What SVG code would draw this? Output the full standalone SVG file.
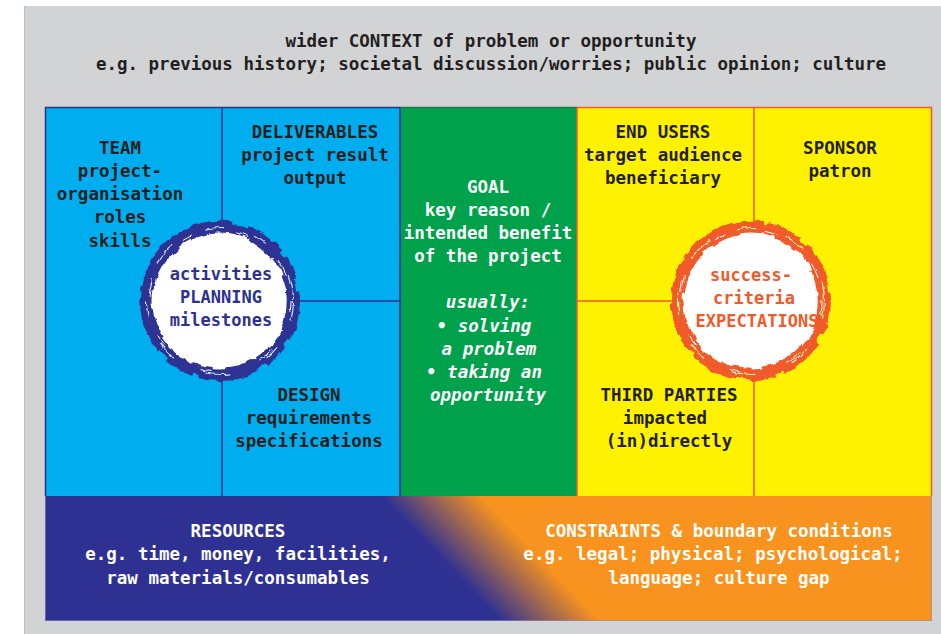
<svg xmlns="http://www.w3.org/2000/svg" width="941" height="634" viewBox="0 0 941 634">
  <style>
    .t { font-family: "DejaVu Sans Mono", "Liberation Mono", monospace; font-weight: bold; font-size: 17.5px; text-anchor: middle; }
    .dark { fill: #231f20; }
    .light { fill: #ffffff; }
    .it { font-style: italic; }
    .navy { fill: #2e3192; }
    .red { fill: #f15a29; }
    .bdiv { stroke: #2e3192; stroke-width: 1.5; fill: none; }
    .odiv { stroke: #f15a29; stroke-width: 1.5; fill: none; }
  </style>
  <defs>
    <linearGradient id="bandGrad" gradientUnits="userSpaceOnUse" x1="464" y1="583" x2="516" y2="533">
      <stop offset="0" stop-color="#2e3192"/>
      <stop offset="1" stop-color="#f7931e"/>
    </linearGradient>
    <filter id="brush" x="-20%" y="-20%" width="140%" height="140%">
      <feTurbulence type="fractalNoise" baseFrequency="0.12" numOctaves="2" seed="4" result="n"/>
      <feDisplacementMap in="SourceGraphic" in2="n" scale="5" xChannelSelector="R" yChannelSelector="G"/>
    </filter>
  </defs>

  <!-- background: wider context -->
  <g id="context">
    <rect x="24" y="6" width="917" height="628" fill="#d1d3d4"/>
    <line x1="24.5" y1="6" x2="24.5" y2="634" stroke="#bcbec0" stroke-width="1"/>
    <text class="t dark" x="491" y="46.5">wider CONTEXT of problem or opportunity</text>
    <text class="t dark" x="491" y="69.5">e.g. previous history; societal discussion/worries; public opinion; culture</text>
  </g>

  <!-- bottom band -->
  <rect x="45" y="496" width="887" height="125" fill="url(#bandGrad)"/>

  <g id="team">
    <rect x="45" y="107" width="177" height="389" fill="#00aeef"/>
    <text class="t dark" x="120" y="154">TEAM</text>
    <text class="t dark" x="120" y="177">project-</text>
    <text class="t dark" x="120" y="200">organisation</text>
    <text class="t dark" x="120" y="223">roles</text>
    <text class="t dark" x="120" y="247">skills</text>
  </g>

  <g id="deliverables">
    <rect x="222" y="107" width="178" height="194" fill="#00aeef"/>
    <text class="t dark" x="315" y="138">DELIVERABLES</text>
    <text class="t dark" x="315" y="161">project result</text>
    <text class="t dark" x="315" y="184">output</text>
  </g>

  <g id="design">
    <rect x="222" y="301" width="178" height="195" fill="#00aeef"/>
    <text class="t dark" x="309" y="401">DESIGN</text>
    <text class="t dark" x="309" y="424">requirements</text>
    <text class="t dark" x="309" y="447">specifications</text>
  </g>

  <g id="goal">
    <rect x="400" y="107" width="177" height="389" fill="#00a14b"/>
    <text class="t light" x="488" y="193">GOAL</text>
    <text class="t light" x="488" y="216">key reason /</text>
    <text class="t light" x="488" y="239">intended benefit</text>
    <text class="t light" x="488" y="262">of the project</text>
    <text class="t light it" x="488" y="308">usually:</text>
    <text class="t light it" x="484" y="332">• solving</text>
    <text class="t light it" x="489" y="355">a problem</text>
    <text class="t light it" x="484" y="378">• taking an</text>
    <text class="t light it" x="488" y="401">opportunity</text>
  </g>

  <g id="end-users">
    <rect x="577" y="107" width="177" height="194" fill="#fff200"/>
    <text class="t dark" x="663" y="138">END USERS</text>
    <text class="t dark" x="663" y="161">target audience</text>
    <text class="t dark" x="663" y="184">beneficiary</text>
  </g>

  <g id="third-parties">
    <rect x="577" y="301" width="177" height="195" fill="#fff200"/>
    <text class="t dark" x="669" y="401">THIRD PARTIES</text>
    <text class="t dark" x="665" y="424">impacted</text>
    <text class="t dark" x="669" y="447">(in)directly</text>
  </g>

  <g id="sponsor">
    <rect x="754" y="107" width="178" height="389" fill="#fff200"/>
    <text class="t dark" x="840" y="154">SPONSOR</text>
    <text class="t dark" x="840" y="177">patron</text>
  </g>

  <g id="resources">
    <text class="t light" x="238" y="537">RESOURCES</text>
    <text class="t light" x="238" y="560">e.g. time, money, facilities,</text>
    <text class="t light" x="238" y="584">raw materials/consumables</text>
  </g>

  <g id="constraints">
    <text class="t light" x="719" y="537">CONSTRAINTS &amp; boundary conditions</text>
    <text class="t light" x="713" y="560">e.g. legal; physical; psychological;</text>
    <text class="t light" x="719" y="584">language; culture gap</text>
  </g>

  <!-- cell dividers and outlines -->
  <g id="dividers">
    <path class="bdiv" d="M400 107.5 H45.5 V496 M222 107 V496 M222 301 H400 M400 107 V496"/>
    <path class="odiv" d="M577 107.5 H931.5 V496 M754 107 V496 M577 301 H754 M577 107 V496"/>
    <line x1="400" y1="107.5" x2="577" y2="107.5" stroke="#1a7a45" stroke-width="1.5"/>
    <path d="M45.5 496 V620.5 H931.5 V496" fill="none" stroke="#8c8fb8" stroke-width="1" opacity="0.6"/>
  </g>

  <!-- brush-ring circles -->
  <g id="activities">
    <circle cx="220" cy="301" r="73" fill="#ffffff"/>
    <g filter="url(#brush)" fill="none">
      <circle cx="220" cy="301" r="73" stroke="#2e3192" stroke-width="9"/>
      <path d="M160 350 A78 78 0 0 1 232 224" stroke="#2e3192" stroke-width="5"/>
      <circle cx="220" cy="301" r="78.5" stroke="#2e3192" stroke-width="3" stroke-dasharray="40 8 25 12 60 6 30 18"/>
      <circle cx="220" cy="301" r="68" stroke="#2e3192" stroke-width="2.5" stroke-dasharray="30 20 50 15 20 40"/>
      <circle cx="220" cy="301" r="73.5" stroke="#bfe7fb" stroke-width="1.2" stroke-dasharray="20 30 15 40 25 35"/>
      <circle cx="220" cy="301" r="71" stroke="#ffffff" stroke-width="1" stroke-dasharray="12 40 18 50 10 45"/>
    </g>
    <text class="t navy" x="221" y="280" style="font-size:17px">activities</text>
    <text class="t navy" x="221" y="303" style="font-size:17px">PLANNING</text>
    <text class="t navy" x="221" y="326" style="font-size:17px">milestones</text>
  </g>

  <g id="success-criteria">
    <circle cx="751" cy="301" r="73" fill="#ffffff"/>
    <g filter="url(#brush)" fill="none">
      <circle cx="751" cy="301" r="73" stroke="#f15a29" stroke-width="9"/>
      <path d="M691 350 A78 78 0 0 1 763 224" stroke="#f15a29" stroke-width="5"/>
      <circle cx="751" cy="301" r="78.5" stroke="#f15a29" stroke-width="3" stroke-dasharray="35 10 45 8 25 14 50 6"/>
      <circle cx="751" cy="301" r="68" stroke="#f15a29" stroke-width="2.5" stroke-dasharray="25 25 45 12 30 35"/>
      <circle cx="751" cy="301" r="73.5" stroke="#fff7a0" stroke-width="1.2" stroke-dasharray="18 32 22 38 26 30"/>
      <circle cx="751" cy="301" r="71" stroke="#ffffff" stroke-width="1" stroke-dasharray="14 44 16 48 12 40"/>
    </g>
    <text class="t red" x="751" y="281" style="font-size:17px">success-</text>
    <text class="t red" x="754" y="304" style="font-size:17px">criteria</text>
    <text class="t red" x="757" y="327" style="font-size:17px">EXPECTATIONS</text>
  </g>
</svg>
